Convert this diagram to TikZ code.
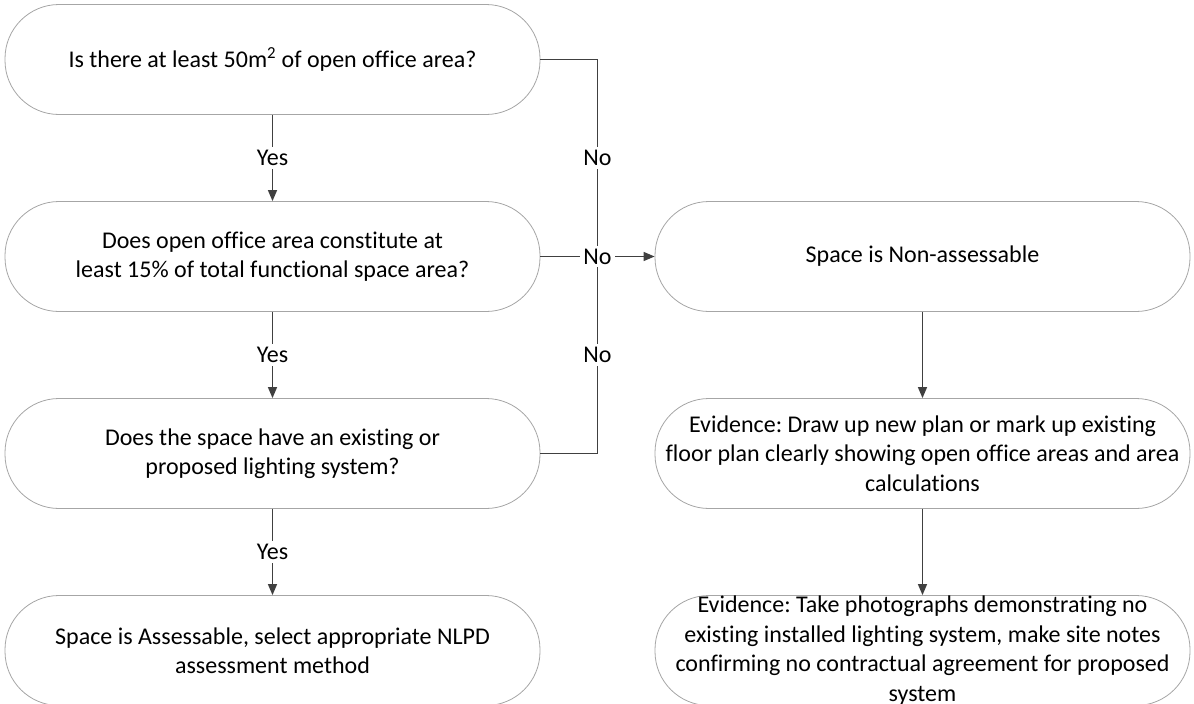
\documentclass[tikz,border=0pt]{standalone}
\usepackage{fontspec}
\setmainfont{Carlito}[Ligatures=NoCommon]
\usetikzlibrary{arrows.meta,positioning}
\frenchspacing

\begin{document}
\begin{tikzpicture}[x=1pt,y=1pt,node distance=197pt,on grid,
  box/.style={draw=black!35,line width=0.8pt,fill=white,rounded corners=54pt,
    minimum width=535pt,minimum height=110pt,inner ysep=0pt,align=center,
    font=\fontsize{24}{29.5}\selectfont},
  line/.style={draw=black!75,line width=1.3pt},
  link/.style={line,-{Triangle[length=11pt,width=9pt]}},
  lbl/.style={fill=white,inner sep=3pt,font=\fontsize{24}{29}\selectfont}]
\useasboundingbox (0,0) rectangle (1194,-704);

% left column: the questions
\node[box] (area) at (272.5,-59.5) {Is there at least 50m\textsuperscript{2} of open office area?};
\node[box] (share) [below=of area] {Does open office area constitute at\\least 15\% of total functional space area?};
\node[box] (light) [below=of share] {Does the space have an existing or\\proposed lighting system?};
\node[box] (assess) [below=of light] {Space is Assessable, select appropriate NLPD\\assessment method};

% right column: the outcome
\node[box] (nonassess) [right=650pt of share] {Space is Non-assessable};
\node[box] (plan) [below=of nonassess] {Evidence: Draw up new plan or mark up existing\\floor plan clearly showing open office areas and area\\calculations};
\node[box] (photo) [below=of plan] {Evidence: Take photographs demonstrating no\\existing installed lighting system, make site notes\\confirming no contractual agreement for proposed\\system};

\coordinate[right=57pt of area.east] (ntop);
\coordinate[right=57pt of share.east] (nmid);
\coordinate[right=57pt of light.east] (nbot);

\path[link]
  (area) -- node[lbl] {Yes} (share);
\path[link]
  (share) -- node[lbl] {Yes} (light);
\path[link]
  (light) -- node[lbl] {Yes} (assess);

\draw[line] (area.east) -- (ntop) -- node[lbl] {No} (nmid)
  -- node[lbl] {No} (nbot) -- (light.east);
\path[link] (share.east) -- node[lbl] {No} (nonassess.west);

\path[link] (nonassess) -- (plan);
\path[link] (plan) -- (photo);
\end{tikzpicture}
\end{document}
